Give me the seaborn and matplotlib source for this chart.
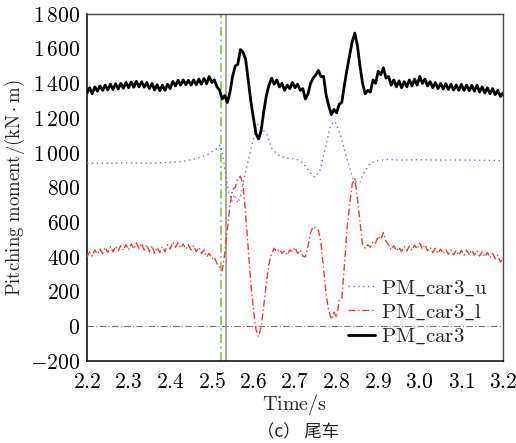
import numpy as np
import pandas as pd
import matplotlib
matplotlib.use("Agg")
import matplotlib.pyplot as plt
import seaborn as sns

# ---- data ----
t_start, t_step, n_pts = 2.2, 0.00625, 161
pm_car3 = [
    1345, 1375, 1340, 1380, 1355, 1385, 1360, 1390, 1362, 1395,
    1365, 1398, 1368, 1400, 1372, 1405, 1375, 1408, 1378, 1412,
    1380, 1410, 1378, 1405, 1370, 1400, 1362, 1392, 1358, 1390,
    1360, 1395, 1370, 1412, 1385, 1418, 1390, 1420, 1392, 1418,
    1390, 1420, 1392, 1425, 1395, 1428, 1398, 1440, 1405, 1420,
    1380, 1360, 1310, 1330, 1290, 1350, 1440, 1500, 1510, 1595,
    1580, 1540, 1420, 1300, 1200, 1110, 1080, 1130, 1240, 1330,
    1390, 1430, 1395, 1420, 1380, 1400, 1360, 1390, 1370, 1405,
    1375, 1395, 1360, 1370, 1310, 1340, 1400, 1430, 1450, 1475,
    1440, 1440, 1330, 1270, 1220, 1250, 1230, 1280, 1290, 1390,
    1480, 1560, 1640, 1690, 1620, 1500, 1400, 1340, 1360, 1350,
    1420, 1400, 1470, 1450, 1490, 1430, 1440, 1390, 1420, 1380,
    1415, 1375, 1410, 1380, 1420, 1385, 1425, 1390, 1440, 1400,
    1425, 1385, 1410, 1375, 1405, 1370, 1400, 1368, 1398, 1365,
    1395, 1362, 1392, 1360, 1395, 1360, 1390, 1358, 1388, 1355,
    1390, 1350, 1380, 1345, 1375, 1340, 1370, 1335, 1360, 1325,
    1345,
]
pm_car3_l = [
    400, 430, 405, 440, 415, 445, 420, 455, 425, 460,
    430, 462, 435, 465, 438, 470, 440, 475, 445, 480,
    448, 478, 440, 470, 430, 465, 420, 455, 425, 460,
    430, 470, 445, 485, 455, 480, 450, 475, 445, 470,
    440, 465, 430, 455, 420, 440, 400, 420, 390, 400,
    360, 340, 320, 420, 560, 700, 790, 800, 850, 865,
    820, 650, 450, 250, 100, -20, -60, 0, 120, 250,
    360, 420, 450, 430, 445, 420, 435, 410, 440, 430,
    455, 420, 440, 405, 400, 460, 540, 575, 565, 555,
    480, 330, 180, 90, 40, 80, 50, 150, 160, 350,
    560, 700, 820, 850, 740, 600, 470, 450, 470, 455,
    490, 480, 520, 500, 540, 490, 470, 440, 465, 435,
    455, 430, 460, 435, 462, 438, 468, 445, 480, 445,
    470, 435, 455, 425, 450, 420, 445, 418, 442, 415,
    440, 412, 438, 410, 438, 410, 440, 412, 440, 410,
    435, 405, 430, 400, 425, 395, 420, 390, 410, 370,
    390,
]
t_u = [2.2, 2.25, 2.3, 2.35, 2.4, 2.43, 2.46, 2.49, 2.51, 2.52, 2.525, 2.53,
       2.535, 2.54, 2.548, 2.555, 2.563, 2.57, 2.58, 2.59, 2.6, 2.605, 2.611,
       2.62, 2.632, 2.645, 2.664, 2.68, 2.704, 2.72, 2.735, 2.748, 2.76,
       2.775, 2.786, 2.796, 2.81, 2.825, 2.84, 2.848, 2.856, 2.865, 2.88,
       2.9, 2.92, 2.95, 3.0, 3.05, 3.1, 3.15, 3.2]
pm_car3_u = [940, 940, 942, 940, 945, 950, 965, 990, 1020, 1045, 1000, 930,
             850, 780, 722, 760, 710, 760, 880, 980, 1078, 1130, 1165,
             1140, 1107, 1020, 980, 970, 963, 940, 890, 859, 900,
             1050, 1160, 1182, 1100, 960, 847, 828, 830, 880, 940,
             955, 962, 958, 960, 958, 958, 957, 955]
t_green, t_gray = 2.522, 2.535
x_ticks = [2.2, 2.3, 2.4, 2.5, 2.6, 2.7, 2.8, 2.9, 3.0, 3.1, 3.2]
x_ticklabels = ["2.2", "2.3", "2.4", "2.5", "2.6", "2.7", "2.8", "2.9", "3.0", "3.1", "3.2"]
y_ticks = [-200, 0, 200, 400, 600, 800, 1000, 1200, 1400, 1600, 1800]
y_ticklabels = [r"$-200$", r"$0$", r"$200$", r"$400$", r"$600$", r"$800$",
                r"$1\,000$", r"$1\,200$", r"$1\,400$", r"$1\,600$", r"$1\,800$"]
labels = [r"$\mathrm{PM\_car3\_u}$", r"$\mathrm{PM\_car3\_l}$", r"$\mathrm{PM\_car3}$"]

t_grid = t_start + t_step * np.arange(n_pts)
df_main = pd.DataFrame({"t": t_grid, "PM_car3": pm_car3, "PM_car3_l": pm_car3_l})
df_u = pd.DataFrame({"t": t_u, "PM_car3_u": pm_car3_u})

sns.set_style("white")
plt.rcParams["font.family"] = ["cmr10", "DejaVu Serif"]
plt.rcParams["mathtext.fontset"] = "cm"
plt.rcParams["axes.unicode_minus"] = True

fig = plt.figure(figsize=(5.16, 4.43), dpi=100)
ax = fig.add_axes([0.1686, 0.1851, 0.9748 - 0.1686, 0.9684 - 0.1851])

ax.axhline(0, color="#777777", lw=0.8, ls=(0, (6, 2, 1, 2)), zorder=1)
ax.axvline(t_green, color="#8cc84b", lw=1.3, ls=(0, (5, 2, 1, 2)), zorder=1)
ax.axvline(t_gray, color="#999999", lw=1.2, zorder=1)

sns.lineplot(data=df_u, x="t", y="PM_car3_u", ax=ax, color="#6f73d8", lw=1.0,
             ls=(0, (1, 2.5)), label=labels[0], zorder=3)
sns.lineplot(data=df_main, x="t", y="PM_car3_l", ax=ax, color="#ee3b3b", lw=1.0,
             ls=(0, (5, 2, 1, 2)), label=labels[1], zorder=3)
sns.lineplot(data=df_main, x="t", y="PM_car3", ax=ax, color="black", lw=2.0,
             label=labels[2], zorder=4)

ax.set_xlim(2.2, 3.2)
ax.set_ylim(-200, 1800)
ax.set_xticks(x_ticks)
ax.set_xticklabels([r"$%s$" % s for s in x_ticklabels])
ax.set_yticks(y_ticks)
ax.set_yticklabels(y_ticklabels)
ax.tick_params(axis="both", direction="in", length=4, width=0.9, labelsize=15.5,
               colors="black", top=False, right=False)
ax.tick_params(axis="x", pad=8)
ax.tick_params(axis="y", pad=5)
for s in ["left", "bottom"]:
    ax.spines[s].set_color("black")
    ax.spines[s].set_linewidth(1.1)
for s in ["top", "right"]:
    ax.spines[s].set_color("#444444")
    ax.spines[s].set_linewidth(1.0)

ax.set_xlabel(r"$\mathrm{Time/s}$", fontsize=14.5, labelpad=0)
ax.set_ylabel(r"$\mathrm{Pitching\ moment/(kN\cdot m)}$", fontsize=13.5, labelpad=2)

leg = ax.legend(loc="lower right", bbox_to_anchor=(0.99, 0.01), frameon=False,
                fontsize=15, handlelength=1.3, handletextpad=0.3,
                labelspacing=0.22, borderaxespad=0.15)

fig.text(0.578, 0.024, "（c） 尾车", ha="center", va="center", fontsize=12.5,
         family=["Noto Sans CJK SC", "DejaVu Sans"])

fig.savefig("out.png", dpi=100, facecolor="white")
